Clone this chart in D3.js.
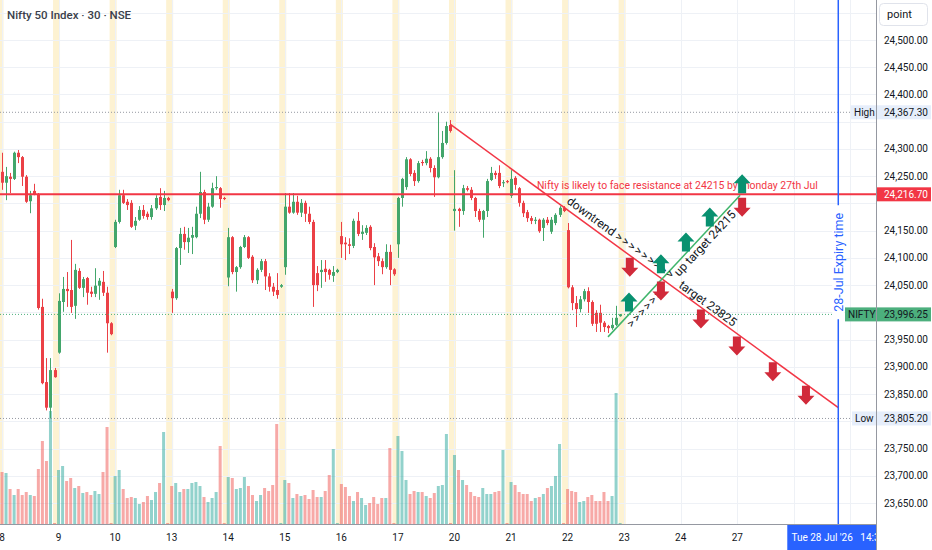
<!DOCTYPE html>
<html>
<head>
<meta charset="utf-8">
<script src="https://d3js.org/d3.v7.min.js"></script>
<style>
  body { margin: 0; background: #fff; }
  svg { display: block; font-family: Roboto, "Noto Sans", sans-serif; }
</style>
</head>
<body>
<script>
// trading days shown on the time axis (14 half-hour slots per day)
var days = ["8", "9", "10", "13", "14", "15", "16", "17", "20", "21", "22"];
var futureDays = ["23", "24", "27"];
var barsPerDay = 14;

// 30 min OHLC, one row per day
var open = [
  24258, 24238, 24249, 24245, 24293, 24285, 24249, 24204, 24223, 24217, 24010, 23872, 23825, 23894,
  23926, 24019, 24043, 24041, 24012, 24076, 24045, 24063, 24038, 24034, 24049, 24056, 24036, 23980,
  24120, 24166, 24215, 24203, 24201, 24159, 24170, 24188, 24181, 24175, 24191, 24212, 24197, 24210,
  24038, 24026, 24118, 24144, 24129, 24137, 24138, 24181, 24221, 24170, 24194, 24228, 24228, 24210,
  24064, 24138, 24074, 24083, 24120, 24138, 24102, 24059, 24078, 24094, 24066, 24047, 24041, 24047,
  24083, 24194, 24183, 24203, 24183, 24201, 24181, 24166, 24072, 24074, 24080, 24078, 24067, 24074,
  24140, 24128, 24125, 24122, 24168, 24144, 24146, 24157, 24120, 24103, 24094, 24083, 24111, 24079,
  24125, 24210, 24230, 24281, 24256, 24241, 24276, 24274, 24282, 24265, 24248, 24285, 24311, 24344,
  24186, 24190, 24186, 24228, 24225, 24210, 24186, 24170, 24186, 24243, 24256, 24256, 24237, 24241,
  24214, 24247, 24228, 24201, 24184, 24173, 24168, 24170, 24155, 24170, 24148, 24164, 24179, 24192,
  24151, 24046, 24017, 24006, 24024, 24039, 24019, 23999, 23999, 23981, 23975, 23971, 23977, 23993
];
var high = [
  24293, 24267, 24256, 24295, 24298, 24287, 24252, 24223, 24236, 24219, 24025, 23916, 23916, 23898,
  24035, 24065, 24074, 24133, 24089, 24081, 24065, 24065, 24047, 24081, 24063, 24076, 24047, 23982,
  24170, 24225, 24225, 24208, 24206, 24175, 24195, 24197, 24185, 24197, 24215, 24228, 24223, 24212,
  24043, 24120, 24155, 24157, 24155, 24157, 24194, 24258, 24225, 24201, 24238, 24250, 24230, 24212,
  24155, 24140, 24085, 24122, 24142, 24140, 24105, 24081, 24098, 24098, 24072, 24054, 24072, 24052,
  24219, 24219, 24219, 24214, 24208, 24205, 24194, 24170, 24085, 24096, 24096, 24080, 24085, 24080,
  24166, 24138, 24136, 24172, 24184, 24160, 24160, 24160, 24127, 24109, 24099, 24125, 24124, 24081,
  24212, 24247, 24285, 24283, 24261, 24278, 24280, 24296, 24285, 24270, 24367.3, 24333, 24350, 24353,
  24261, 24192, 24234, 24232, 24230, 24212, 24190, 24188, 24245, 24267, 24260, 24270, 24243, 24243,
  24261, 24250, 24230, 24205, 24188, 24177, 24175, 24172, 24173, 24175, 24175, 24182, 24195, 24195,
  24164, 24050, 24030, 24030, 24043, 24046, 24022, 24004, 24014, 23984, 23977, 23990, 24012, 23997
];
var low = [
  24225, 24206, 24219, 24243, 24274, 24232, 24201, 24182, 24215, 24005, 23868, 23820, 23805.2, 23880,
  23924, 24001, 24010, 23999, 23988, 24043, 24028, 24014, 24028, 24028, 24023, 24030, 23926, 23958,
  24118, 24163, 24199, 24188, 24155, 24151, 24168, 24172, 24170, 24170, 24188, 24188, 24186, 24204,
  23999, 24023, 24087, 24115, 24109, 24107, 24136, 24173, 24162, 24166, 24192, 24225, 24192, 24206,
  24048, 24070, 24038, 24080, 24118, 24098, 24054, 24052, 24074, 24041, 24038, 24030, 24025, 24045,
  24069, 24181, 24181, 24179, 24175, 24166, 24162, 24010, 24039, 24045, 24056, 24060, 24056, 24072,
  24100, 24096, 24107, 24118, 24140, 24133, 24142, 24114, 24050, 24085, 24070, 24080, 24050, 24067,
  24100, 24194, 24225, 24250, 24232, 24238, 24269, 24270, 24257, 24212, 24246, 24282, 24308, 24330,
  24150, 24157, 24179, 24222, 24206, 24175, 24166, 24137, 24175, 24241, 24245, 24228, 24230, 24237,
  24210, 24225, 24194, 24175, 24166, 24162, 24162, 24146, 24131, 24160, 24144, 24160, 24175, 24184,
  24044, 24004, 23973, 24000, 24020, 23999, 23975, 23964, 23964, 23964, 23962, 23968, 23975, 23992
];
var close = [
  24238, 24250, 24245, 24293, 24285, 24249, 24203, 24215, 24217, 24008, 23870, 23825, 23894, 23881,
  24021, 24043, 24039, 24010, 24078, 24045, 24061, 24036, 24034, 24049, 24058, 24036, 23980, 23960,
  24166, 24215, 24201, 24197, 24157, 24168, 24188, 24177, 24175, 24191, 24210, 24197, 24210, 24206,
  24026, 24118, 24144, 24129, 24137, 24142, 24181, 24221, 24170, 24194, 24228, 24230, 24208, 24208,
  24138, 24074, 24083, 24120, 24138, 24100, 24059, 24078, 24094, 24066, 24047, 24038, 24032, 24050,
  24194, 24183, 24203, 24183, 24201, 24181, 24166, 24050, 24050, 24078, 24074, 24069, 24074, 24078,
  24125, 24125, 24122, 24168, 24144, 24148, 24155, 24118, 24101, 24094, 24083, 24111, 24078, 24070,
  24210, 24245, 24281, 24254, 24241, 24274, 24274, 24282, 24265, 24248, 24285, 24311, 24342, 24333,
  24190, 24186, 24228, 24225, 24210, 24186, 24170, 24186, 24241, 24256, 24252, 24232, 24239, 24239,
  24245, 24234, 24201, 24182, 24173, 24168, 24170, 24149, 24170, 24164, 24170, 24179, 24192, 24186,
  24046, 24017, 24006, 24024, 24039, 24019, 23979, 23979, 23981, 23973, 23971, 23977, 23990, 23996.25
];
// volume (relative units)
var volume = [
  52, 51, 35, 29, 35, 29, 32, 29, 28, 55, 83, 63, 113, 1,
  54, 58, 43, 46, 36, 38, 31, 32, 29, 33, 30, 52, 97, 1,
  48, 54, 35, 26, 27, 26, 20, 22, 28, 24, 32, 41, 92, 1,
  38, 41, 32, 35, 35, 41, 42, 38, 27, 22, 26, 32, 78, 1,
  47, 46, 35, 36, 47, 38, 29, 23, 29, 36, 33, 39, 100, 1,
  44, 41, 26, 30, 28, 29, 25, 34, 27, 27, 33, 49, 75, 1,
  40, 37, 28, 23, 32, 26, 19, 21, 27, 20, 26, 26, 76, 1,
  88, 73, 44, 30, 33, 32, 32, 28, 26, 31, 38, 39, 90, 1,
  69, 54, 44, 39, 32, 28, 27, 36, 30, 30, 32, 33, 74, 1,
  42, 39, 32, 30, 30, 23, 26, 27, 30, 36, 38, 48, 80, 1,
  35, 33, 32, 22, 23, 27, 29, 23, 23, 32, 23, 28, 131, 1
];

var priceTicks = [24500, 24450, 24400, 24350, 24300, 24250, 24200, 24150, 24100, 24050,
                  24000, 23950, 23900, 23850, 23800, 23750, 23700, 23650];
var gridPrices = [24550].concat(priceTicks);

var dayHigh = 24367.3, dayLow = 23805.2, lastPrice = 23996.25, resistance = 24216.7;

// drawings (bar index, price)
var downTrend = [{i: 111, p: 24345}, {i: 207, p: 23825}];
var upTrend = [{i: 150, p: 23955}, {i: 182.7, p: 24215}];
var upArrows = [{i: 155.2, p: 24019}, {i: 163.1, p: 24089}, {i: 169.3, p: 24129},
                {i: 175.2, p: 24175}, {i: 183.2, p: 24236}];
var downArrows = [{i: 155.4, p: 24083}, {i: 163.1, p: 24039}, {i: 173.0, p: 23988},
                  {i: 181.9, p: 23938}, {i: 190.8, p: 23891}, {i: 199.0, p: 23848},
                  {i: 183.2, p: 24193}];
var notes = [
  {text: "downtrend >>>>>>>>>", i: 139.6, p: 24201, line: downTrend},
  {text: "target 23825", i: 167.3, p: 24047, line: downTrend},
  {text: "up target 24215", i: 167.6, p: 24065, line: upTrend},
  {text: ">>>>>>", i: 155.9, p: 23971, line: upTrend}
];
var resistanceNote = {text: "Nifty is likely to face resistance at 24215 by monday 27th Jul", i: 132.4, p: 24227};
var expiryIdx = 207, expiryText = "28-Jul Expiry time", expiryLabel = "Tue 28 Jul '26   14:30";

var W = 932, H = 550, plotR = 876, plotB = 524;
var upCol = "#43a66b", downCol = "#eb4046";

var svg = d3.select("body").append("svg").attr("width", W).attr("height", H);

var x = d3.scaleLinear().domain([0, 210]).range([2, 2 + 210 * 4.04]);
var y = d3.scaleLinear().domain([23650, 24500]).range([503, 40]);
var yVol = d3.scaleLinear().domain([0, 140]).range([plotB, plotB - 140]);

var bars = open.map(function (o, i) {
  return {i: i, o: o, h: high[i], l: low[i], c: close[i], v: volume[i]};
});

svg.append("defs").append("clipPath").attr("id", "plot")
  .append("rect").attr("width", plotR).attr("height", plotB);

var plot = svg.append("g").attr("clip-path", "url(#plot)");

// session highlight bands
var allDays = days.concat(futureDays);
plot.selectAll(".band").data(d3.range(days.length + 1)).enter().append("rect")
  .attr("x", function (k) { return x(k * barsPerDay - 0.5) - 3.5; })
  .attr("width", 7).attr("y", 0).attr("height", plotB)
  .attr("fill", "#fdf2d2");

// grid
plot.selectAll(".hg").data(gridPrices).enter().append("line")
  .attr("x1", 0).attr("x2", plotR)
  .attr("y1", function (d) { return Math.round(y(d)) + 0.5; })
  .attr("y2", function (d) { return Math.round(y(d)) + 0.5; })
  .attr("stroke", "#eef1f6");
plot.selectAll(".vg").data(d3.range(16)).enter().append("line")
  .attr("y1", 0).attr("y2", plotB)
  .attr("x1", function (k) { return Math.round(x(k * barsPerDay)) + 0.5; })
  .attr("x2", function (k) { return Math.round(x(k * barsPerDay)) + 0.5; })
  .attr("stroke", "#eef1f6");

// volume
plot.selectAll(".vol").data(bars).enter().append("rect")
  .attr("x", function (d) { return x(d.i) - 1.5; })
  .attr("width", 3)
  .attr("y", function (d) { return yVol(d.v); })
  .attr("height", function (d) { return plotB - yVol(d.v); })
  .attr("fill", function (d) { return d.c >= d.o ? "#26a69a" : "#ef5350"; })
  .attr("opacity", 0.5);

// candles
var candle = plot.selectAll(".candle").data(bars).enter().append("g");
candle.append("line")
  .attr("x1", function (d) { return Math.round(x(d.i)) + 0.5; })
  .attr("x2", function (d) { return Math.round(x(d.i)) + 0.5; })
  .attr("y1", function (d) { return y(d.h); })
  .attr("y2", function (d) { return y(d.l); })
  .attr("stroke", function (d) { return d.c >= d.o ? upCol : downCol; })
  .attr("stroke-width", 1);
candle.append("rect")
  .attr("x", function (d) { return Math.round(x(d.i)) - 1; })
  .attr("width", 3)
  .attr("y", function (d) { return y(Math.max(d.o, d.c)); })
  .attr("height", function (d) { return Math.max(1, Math.abs(y(d.o) - y(d.c))); })
  .attr("fill", function (d) { return d.c >= d.o ? upCol : downCol; });

// high / low / last price lines
plot.append("line").attr("x1", 0).attr("x2", 851)
  .attr("y1", y(dayHigh)).attr("y2", y(dayHigh))
  .attr("stroke", "#9598a1").attr("stroke-dasharray", "1,2");
plot.append("line").attr("x1", 0).attr("x2", 852)
  .attr("y1", y(dayLow)).attr("y2", y(dayLow))
  .attr("stroke", "#9598a1").attr("stroke-dasharray", "1,2");
plot.append("line").attr("x1", 0).attr("x2", 845)
  .attr("y1", y(lastPrice)).attr("y2", y(lastPrice))
  .attr("stroke", "#4caf7d").attr("stroke-dasharray", "1,2");

// resistance line
plot.append("line").attr("x1", 0).attr("x2", plotR)
  .attr("y1", y(resistance)).attr("y2", y(resistance))
  .attr("stroke", "#f23645").attr("stroke-width", 2);

plot.append("text")
  .attr("x", x(resistanceNote.i)).attr("y", y(resistanceNote.p))
  .attr("font-size", 11).attr("fill", "#f23645")
  .attr("textLength", 281).attr("lengthAdjust", "spacingAndGlyphs")
  .text(resistanceNote.text);

// trend lines
var line = d3.line().x(function (d) { return x(d.i); }).y(function (d) { return y(d.p); });
plot.append("path").attr("d", line(downTrend)).attr("fill", "none")
  .attr("stroke", "#f23645").attr("stroke-width", 1.5);
plot.append("path").attr("d", line(upTrend)).attr("fill", "none")
  .attr("stroke", "#3fb56b").attr("stroke-width", 1.5);

function angleOf(seg) {
  return Math.atan2(y(seg[1].p) - y(seg[0].p), x(seg[1].i) - x(seg[0].i)) * 180 / Math.PI;
}
var noteText = plot.selectAll(".note").data(notes).enter().append("text")
  .attr("transform", function (d) {
    return "translate(" + x(d.i) + "," + y(d.p) + ") rotate(" + angleOf(d.line) + ")";
  })
  .attr("font-size", 12).attr("fill", "#131722");
// the ">>>>" runs are spaced out like the original drawing tool renders them
noteText.selectAll("tspan")
  .data(function (d) { return d.text.split(/(>+)/).filter(function (s) { return s; }); })
  .enter().append("tspan")
  .attr("letter-spacing", function (s) { return s[0] === ">" ? 1.6 : 0; })
  .attr("xml:space", "preserve")
  .text(function (s) { return s; });

// arrows
function arrowPath(cx, cy, dir) {
  var s = dir; // -1 up, 1 down
  return "M" + cx + "," + (cy + s * 9.5) +
    "L" + (cx + 8.5) + "," + (cy + s * 0.5) +
    "L" + (cx + 4) + "," + (cy + s * 0.5) +
    "L" + (cx + 4) + "," + (cy - s * 9.5) +
    "L" + (cx - 4) + "," + (cy - s * 9.5) +
    "L" + (cx - 4) + "," + (cy + s * 0.5) +
    "L" + (cx - 8.5) + "," + (cy + s * 0.5) + "Z";
}
plot.selectAll(".dn").data(downArrows).enter().append("path")
  .attr("d", function (d) { return arrowPath(x(d.i), y(d.p), 1); })
  .attr("fill", "#d12a3a");
plot.selectAll(".up").data(upArrows).enter().append("path")
  .attr("d", function (d) { return arrowPath(x(d.i), y(d.p), -1); })
  .attr("fill", "#089170");

// expiry line
var ex = x(expiryIdx);
plot.append("line").attr("x1", ex).attr("x2", ex).attr("y1", 0).attr("y2", plotB)
  .attr("stroke", "#2962ff").attr("stroke-width", 1.5);
plot.append("rect").attr("x", ex - 6).attr("width", 12)
  .attr("y", y(24092) - 57).attr("height", 114).attr("fill", "#fff");
plot.append("text")
  .attr("transform", "translate(" + (ex + 4.5) + "," + y(24092) + ") rotate(-90)")
  .attr("text-anchor", "middle").attr("font-size", 12.5).attr("fill", "#2962ff")
  .text(expiryText);

// title
svg.append("text").attr("x", 7).attr("y", 19)
  .attr("font-size", 11.5).attr("font-weight", 500).attr("fill", "#3b3f4b")
  .text("Nifty 50 Index \u00b7 30 \u00b7 NSE");

// time axis
svg.append("line").attr("x1", 0).attr("x2", plotR).attr("y1", plotB + 0.5).attr("y2", plotB + 0.5)
  .attr("stroke", "#9598a1");
svg.selectAll(".tl").data(allDays).enter().append("text")
  .attr("x", function (d, k) { return x(k * barsPerDay); })
  .attr("y", 541).attr("text-anchor", "middle")
  .attr("font-size", 10).attr("fill", "#131722")
  .text(function (d) { return d; });

svg.append("rect").attr("x", ex - 51).attr("y", plotB + 1).attr("width", 102).attr("height", H - plotB)
  .attr("fill", "#2962ff");
svg.append("text").attr("x", ex + 0).attr("y", 541).attr("text-anchor", "middle")
  .attr("font-size", 10).attr("fill", "#fff").attr("xml:space", "preserve")
  .text(expiryLabel);

// price axis
var tags = [dayHigh, dayLow, resistance, lastPrice];
svg.append("rect").attr("x", plotR).attr("y", 0).attr("width", W - plotR).attr("height", H)
  .attr("fill", "#fff");
svg.append("line").attr("x1", plotR + 0.5).attr("x2", plotR + 0.5).attr("y1", 0).attr("y2", H)
  .attr("stroke", "#9598a1");
svg.selectAll(".pt")
  .data(priceTicks.filter(function (t) {
    return tags.every(function (p) { return Math.abs(y(t) - y(p)) > 13; });
  }))
  .enter().append("text")
  .attr("x", 884).attr("y", function (d) { return y(d); }).attr("dy", "0.35em")
  .attr("font-size", 10).attr("fill", "#131722")
  .text(function (d) { return d3.format(",.2f")(d); });

svg.append("rect").attr("x", 879.5).attr("y", 3.5).attr("width", 48).attr("height", 22).attr("rx", 4)
  .attr("fill", "#fff").attr("stroke", "#e0e3eb");
svg.append("text").attr("x", 887).attr("y", 18).attr("font-size", 11).attr("fill", "#131722").text("point");

function priceTag(p, tag, tagX, bg, fg) {
  var cy = y(p);
  if (tag) {
    svg.append("rect").attr("x", tagX).attr("y", cy - 7).attr("width", plotR - tagX).attr("height", 14)
      .attr("fill", bg);
    svg.append("text").attr("x", tagX + 3).attr("y", cy).attr("dy", "0.35em")
      .attr("font-size", 10).attr("fill", fg).text(tag);
  }
  svg.append("rect").attr("x", plotR + 1).attr("y", cy - 7).attr("width", W - plotR - 2).attr("height", 14)
    .attr("fill", bg);
  svg.append("text").attr("x", 884).attr("y", cy).attr("dy", "0.35em")
    .attr("font-size", 10).attr("fill", fg).text(d3.format(",.2f")(p));
}
priceTag(dayHigh, "High", 851, "#e6eefb", "#131722");
priceTag(dayLow, "Low", 852, "#e6eefb", "#131722");
priceTag(resistance, null, 0, "#f23645", "#fff");
priceTag(lastPrice, "NIFTY", 845, "#4caf7d", "#131722");
</script>
</body>
</html>
